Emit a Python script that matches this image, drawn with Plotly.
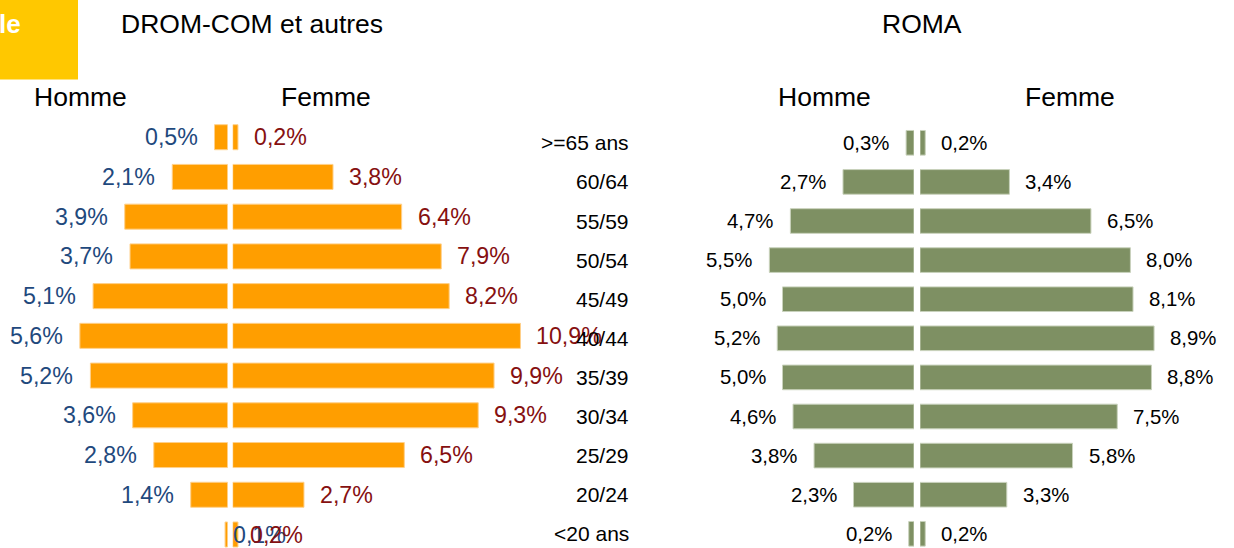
import plotly.graph_objects as go

# ---------------- data ----------------
categories = [">=65 ans", "60/64", "55/59", "50/54", "45/49", "40/44",
              "35/39", "30/34", "25/29", "20/24", "<20 ans"]
drom_homme = [0.5, 2.1, 3.9, 3.7, 5.1, 5.6, 5.2, 3.6, 2.8, 1.4, 0.1]
drom_femme = [0.2, 3.8, 6.4, 7.9, 8.2, 10.9, 9.9, 9.3, 6.5, 2.7, 0.2]
roma_homme = [0.3, 2.7, 4.7, 5.5, 5.0, 5.2, 5.0, 4.6, 3.8, 2.3, 0.2]
roma_femme = [0.2, 3.4, 6.5, 8.0, 8.1, 8.9, 8.8, 7.5, 5.8, 3.3, 0.2]

title_left = "DROM-COM et autres"
title_right = "ROMA"
sex_labels = ["Homme", "Femme"]

# ---------------- styling ----------------
W, H = 1234, 548
FONT = "Liberation Sans, Arial, sans-serif"
ORANGE = "#FF9E00"
ORANGE_EDGE = "#FFD08A"
GREEN = "#7E9063"
GREEN_EDGE = "#C9D2BC"
BLUE = "#1F497D"
DARKRED = "#861010"
TITLE_SIZE = 26.5
LEFT_LBL = 23.2
RIGHT_LBL = 20.4
CAT_SIZE = 21


def px(xp):
    return xp / W


def py(yp):
    return 1 - yp / H


def fmt(v):
    return f"{v:.1f}".replace(".", ",") + "%"


idx = list(range(len(categories)))

fig = go.Figure()

# left panel bars
fig.add_trace(go.Bar(y=idx, x=drom_homme, orientation="h", xaxis="x", yaxis="y",
                     marker=dict(color=ORANGE, line=dict(color=ORANGE_EDGE, width=1)),
                     width=0.63, hoverinfo="skip"))
fig.add_trace(go.Bar(y=idx, x=drom_femme, orientation="h", xaxis="x2", yaxis="y",
                     marker=dict(color=ORANGE, line=dict(color=ORANGE_EDGE, width=1)),
                     width=0.63, hoverinfo="skip"))
# right panel bars
fig.add_trace(go.Bar(y=idx, x=roma_homme, orientation="h", xaxis="x3", yaxis="y2",
                     marker=dict(color=GREEN, line=dict(color=GREEN_EDGE, width=1)),
                     width=0.63, hoverinfo="skip"))
fig.add_trace(go.Bar(y=idx, x=roma_femme, orientation="h", xaxis="x4", yaxis="y2",
                     marker=dict(color=GREEN, line=dict(color=GREEN_EDGE, width=1)),
                     width=0.63, hoverinfo="skip"))

annotations = []

# value labels - left panel
for i, (h, f) in enumerate(zip(drom_homme, drom_femme)):
    if h < 0.15 and f < 0.25 and i == len(categories) - 1:
        annotations.append(dict(x=0, y=i, xref="x2", yref="y", text=fmt(h),
                                xanchor="left", yanchor="middle", xshift=-2, showarrow=False,
                                font=dict(family=FONT, size=LEFT_LBL, color=BLUE)))
        annotations.append(dict(x=0, y=i, xref="x2", yref="y", text=fmt(f),
                                xanchor="left", yanchor="middle", xshift=15, showarrow=False,
                                font=dict(family=FONT, size=LEFT_LBL, color=DARKRED)))
        continue
    annotations.append(dict(x=h, y=i, xref="x", yref="y", text=fmt(h),
                            xanchor="right", yanchor="middle", xshift=-15, showarrow=False,
                            font=dict(family=FONT, size=LEFT_LBL, color=BLUE)))
    annotations.append(dict(x=f, y=i, xref="x2", yref="y", text=fmt(f),
                            xanchor="left", yanchor="middle", xshift=14, showarrow=False,
                            font=dict(family=FONT, size=LEFT_LBL, color=DARKRED)))

# value labels - right panel
for i, (h, f) in enumerate(zip(roma_homme, roma_femme)):
    annotations.append(dict(x=h, y=i, xref="x3", yref="y2", text=fmt(h),
                            xanchor="right", yanchor="middle", xshift=-15, showarrow=False,
                            font=dict(family=FONT, size=RIGHT_LBL, color="#000000")))
    annotations.append(dict(x=f, y=i, xref="x4", yref="y2", text=fmt(f),
                            xanchor="left", yanchor="middle", xshift=14, showarrow=False,
                            font=dict(family=FONT, size=RIGHT_LBL, color="#000000")))

# category labels (placed in left panel, aligned with the right panel rows)
for i, c in enumerate(categories):
    annotations.append(dict(x=px(631), y=i, xref="paper", yref="y2", text=c,
                            xanchor="right", yanchor="middle", showarrow=False,
                            font=dict(family=FONT, size=CAT_SIZE, color="#000000")))


# titles
def title(text, xc, yc):
    return dict(x=px(xc), y=py(yc), xref="paper", yref="paper", text=text,
                xanchor="center", yanchor="middle", showarrow=False,
                font=dict(family=FONT, size=TITLE_SIZE, color="#000000"))


annotations += [
    title(title_left, 252, 24),
    title(title_right, 922, 24),
    title(sex_labels[0], 80, 97),
    title(sex_labels[1], 326, 97),
    title(sex_labels[0], 824, 97),
    title(sex_labels[1], 1070, 97),
    dict(x=px(23), y=py(24), xref="paper", yref="paper", text="<b>le</b>",
         xanchor="right", yanchor="middle", showarrow=False,
         font=dict(family=FONT, size=26, color="#FFFFFF")),
]

shapes = [dict(type="rect", xref="paper", yref="paper",
               x0=0, x1=px(78), y0=py(79.5), y1=1,
               fillcolor="#FFC800", line=dict(width=0), layer="below")]

SL = 26.4  # px per % (left)
SR = 26.3  # px per % (right)
L_MID_M, L_MID_F = 227.7, 232.7
R_MID_M, R_MID_F = 914.0, 920.0

ax = dict(visible=False, fixedrange=True)
fig.update_layout(
    width=W, height=H,
    margin=dict(l=0, r=0, t=0, b=0, pad=0),
    paper_bgcolor="white", plot_bgcolor="white",
    showlegend=False, barmode="overlay",
    xaxis=dict(ax, domain=[0, px(L_MID_M)], range=[L_MID_M / SL, 0], anchor="y"),
    xaxis2=dict(ax, domain=[px(L_MID_F), px(640)], range=[0, (640 - L_MID_F) / SL], anchor="y"),
    xaxis3=dict(ax, domain=[px(690), px(R_MID_M)], range=[(R_MID_M - 690) / SR, 0], anchor="y2"),
    xaxis4=dict(ax, domain=[px(R_MID_F), 1], range=[0, (W - R_MID_F) / SR], anchor="y2"),
    yaxis=dict(ax, domain=[0, 1], range=[(H - 137.2) / 39.73, -137.2 / 39.73], anchor="x"),
    yaxis2=dict(ax, domain=[0, 1], range=[(H - 142.8) / 39.1, -142.8 / 39.1], anchor="x3"),
    annotations=annotations,
    shapes=shapes,
)

fig.write_html(
    "out.html",
    config={"displayModeBar": False},
    post_script="document.body.style.margin='0';document.body.style.overflow='hidden';",
)
